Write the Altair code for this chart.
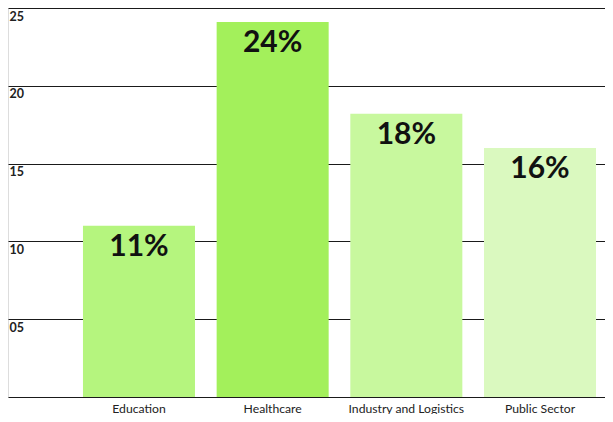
import altair as alt
import pandas as pd

categories = ["Education", "Healthcare", "Industry and Logistics", "Public Sector"]
values = [11.0, 24.1, 18.2, 16.0]
labels = ["11%", "24%", "18%", "16%"]
colors = ["#b5f57e", "#a3f05b", "#c8f89e", "#daf9bf"]

df = pd.DataFrame({"category": categories, "value": values, "label": labels, "color": colors})

x = alt.X(
    "category:N",
    sort=categories,
    scale=alt.Scale(paddingInner=0.162, paddingOuter=0.314, align=0.893),
    axis=alt.Axis(
        title=None, ticks=False, domain=False, grid=False, labelAngle=0,
        labelFont="Lato", labelFontSize=12.2, labelColor="#222222", labelPadding=5,
    ),
)
y = alt.Y(
    "value:Q",
    scale=alt.Scale(domain=[0, 25], nice=False, zero=True),
    axis=alt.Axis(
        title=None, ticks=False, domain=False, values=[0, 5, 10, 15, 20, 25],
        grid=True, gridColor="#1a1a1a", gridWidth=1, gridOpacity=1,
        labelAlign="left", labelBaseline="top", labelPadding=-1, labelOffset=2,
        labelFont="Lato", labelFontWeight="bold", labelFontSize=12.5, labelColor="#222222",
        labelExpr="datum.value == 0 ? '' : (datum.value < 10 ? '0' + datum.value : '' + datum.value)",
    ),
)

bars = alt.Chart(df).mark_bar(cornerRadius=0).encode(
    x=x, y=y, color=alt.Color("color:N", scale=None)
)
text = alt.Chart(df).mark_text(
    baseline="alphabetic", align="center", dy=30, font="Lato", fontWeight="bold",
    fontSize=30, color="#111111",
).encode(x=alt.X("category:N", sort=categories), y="value:Q", text="label:N")

chart = alt.layer(bars, text).properties(
    width=597, height=389, padding={"left": 0, "top": 0, "right": 0, "bottom": 17},
    autosize=alt.AutoSizeParams(type="none"),
).configure_view(stroke=None).configure(background="white")

chart.save("out.html", embed_options={"renderer": "svg", "actions": False})
